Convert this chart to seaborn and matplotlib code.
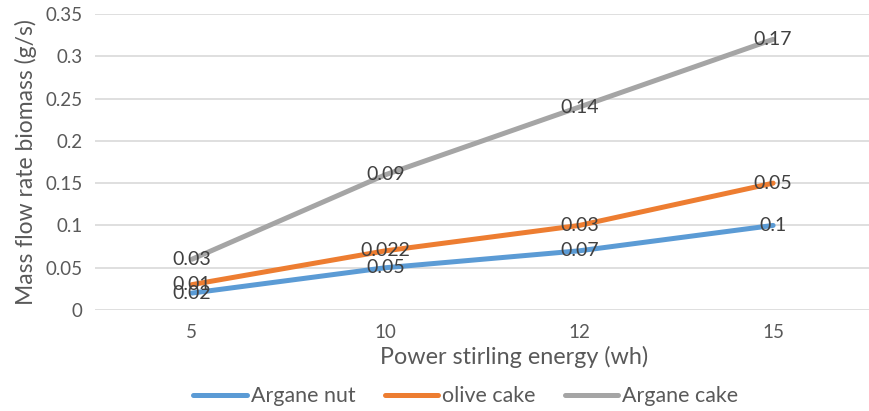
import matplotlib
matplotlib.use("Agg")
import matplotlib.pyplot as plt
import seaborn as sns
import pandas as pd

# Power of the Stirling engine (wh), one category per tick
categories = ["5", "10", "12", "15"]

# Mass flow rate of biomass (g/s) for each fuel
argane_nut = [0.02, 0.05, 0.07, 0.10]
olive_cake = [0.03, 0.07, 0.10, 0.15]
argane_cake = [0.06, 0.16, 0.24, 0.32]

# Data labels printed next to each point
argane_nut_labels = ["0.02", "0.05", "0.07", "0.1"]
olive_cake_labels = ["0.01", "0.022", "0.03", "0.05"]
argane_cake_labels = ["0.03", "0.09", "0.14", "0.17"]

series_names = ["Argane nut", "olive cake", "Argane cake"]
series_values = [argane_nut, olive_cake, argane_cake]
series_labels = [argane_nut_labels, olive_cake_labels, argane_cake_labels]
palette = ["#5B9BD5", "#ED7D31", "#A5A5A5"]

y_ticks = [0, 0.05, 0.1, 0.15, 0.2, 0.25, 0.3, 0.35]
y_tick_labels = ["0", "0.05", "0.1", "0.15", "0.2", "0.25", "0.3", "0.35"]

sns.set_theme(style="white")
plt.rcParams["font.family"] = ["Lato", "DejaVu Sans"]
text_color = "#595959"

rows = []
for name, vals in zip(series_names, series_values):
    for i, (cat, v) in enumerate(zip(categories, vals)):
        rows.append({"pos": i, "power": cat, "flow": v, "fuel": name})
df = pd.DataFrame(rows)

fig = plt.figure(figsize=(8.7, 4.11), dpi=100)
W, H = 870, 411
ax = fig.add_axes([95 / W, (H - 310) / H, 775 / W, 296 / H])

sns.lineplot(data=df, x="pos", y="flow", hue="fuel", palette=palette,
             hue_order=series_names, linewidth=3.6, ax=ax, legend=False,
             solid_capstyle="round", zorder=3)

for vals, labs in zip(series_values, series_labels):
    for i, (v, lab) in enumerate(zip(vals, labs)):
        ax.text(i, v, lab, ha="center", va="center", fontsize=14,
                color="#404040", zorder=4)

ax.set_xlim(-0.5, len(categories) - 0.5)
ax.set_ylim(0, 0.35)
ax.set_xticks(range(len(categories)))
ax.set_xticklabels(categories)
ax.set_yticks(y_ticks)
ax.set_yticklabels(y_tick_labels)
ax.tick_params(axis="both", length=0, labelsize=13.5, colors=text_color)
ax.tick_params(axis="x", pad=10)
ax.tick_params(axis="y", pad=9)
ax.grid(axis="y", color="#D9D9D9", linewidth=1.2)
ax.grid(axis="x", visible=False)
for s in ax.spines.values():
    s.set_visible(False)
ax.set_xlabel("")
ax.set_ylabel("Mass flow rate biomass (g/s)", fontsize=16.5, color=text_color,
              labelpad=6)

fig.text(514 / W, 1 - 357 / H, "Power stirling energy (wh)", ha="center",
         va="center", fontsize=16.8, color=text_color)

handles = [plt.Line2D([], [], color=c, linewidth=3.6, solid_capstyle="round")
           for c in palette]
leg = fig.legend(handles, series_names, loc="center", ncol=3,
                 bbox_to_anchor=(466 / W, 1 - 396 / H), frameon=False,
                 fontsize=15.4, handlelength=2.5, handletextpad=0.2,
                 columnspacing=1.35)
for t in leg.get_texts():
    t.set_color(text_color)

fig.savefig("out.png", dpi=100)
